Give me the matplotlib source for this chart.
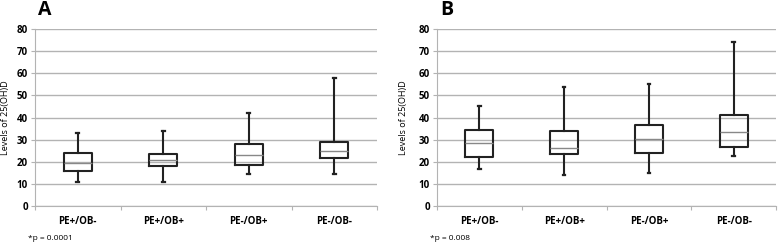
import matplotlib.pyplot as plt

plt.rcParams['font.family'] = ['Open Sans', 'DejaVu Sans']

groups = ['PE+/OB-', 'PE+/OB+', 'PE-/OB+', 'PE-/OB-']

# panel A: whisker low, Q1, median, Q3, whisker high
a_low = [11, 11, 14.5, 14.5]
a_q1 = [16, 18, 18.5, 21.5]
a_med = [19.6, 21, 23, 25]
a_q3 = [24, 23.5, 28, 29]
a_high = [33, 34, 42, 58]

# panel B
b_low = [16.5, 14, 15, 22.5]
b_q1 = [22, 23.5, 24, 26.5]
b_med = [28.5, 26, 30.5, 33.5]
b_q3 = [34.5, 34, 36.5, 41]
b_high = [45, 54, 55, 74]

panels = [
    ('A', a_low, a_q1, a_med, a_q3, a_high, '*p = 0.0001'),
    ('B', b_low, b_q1, b_med, b_q3, b_high, '*p = 0.008'),
]

fig = plt.figure(figsize=(7.78, 2.46), dpi=100)
W, H = 778, 246
boxes = [(35, 377, 6), (437, 776, 403)]
top, bottom = 29, 206

for (letter, lo, q1, med, q3, hi, ptxt), (x0, x1, ylx) in zip(panels, boxes):
    ax = fig.add_axes([x0 / W, 1 - bottom / H, (x1 - x0) / W, (bottom - top) / H])
    stats = []
    for i in range(len(groups)):
        stats.append(dict(whislo=lo[i], q1=q1[i], med=med[i], q3=q3[i],
                          whishi=hi[i], fliers=[], label=groups[i]))
    ax.bxp(stats, positions=range(len(groups)), widths=0.33, showfliers=False,
           boxprops=dict(color='#222222', linewidth=1.5),
           whiskerprops=dict(color='#222222', linewidth=1.5),
           capprops=dict(color='#222222', linewidth=1.6),
           medianprops=dict(color='#888888', linewidth=1.0),
           capwidths=0.03, zorder=3)
    ax.set_xlim(-0.5, len(groups) - 0.5)
    ax.set_ylim(0, 80)
    ax.set_yticks(range(0, 81, 10))
    ax.yaxis.grid(True, color='#b3b3b3', linewidth=1.0)
    ax.set_axisbelow(True)
    for s in ['top', 'right']:
        ax.spines[s].set_visible(False)
    ax.spines['left'].set_color('#b3b3b3')
    ax.spines['bottom'].set_color('#b3b3b3')
    ax.set_xticks([i - 0.5 for i in range(len(groups) + 1)], minor=False)
    ax.set_xticklabels([])
    ax.tick_params(axis='x', which='major', length=3, color='#b3b3b3')
    ax.set_xticks(range(len(groups)), minor=True)
    ax.set_xticklabels(groups, minor=True, fontsize=7, fontweight='bold')
    ax.tick_params(axis='x', which='minor', length=0, pad=7)
    ax.tick_params(axis='y', length=3, color='#b3b3b3', labelsize=7, pad=2)
    for t in ax.get_yticklabels():
        t.set_fontweight('bold')
    ax.set_ylabel('Levels of 25(OH)D', fontsize=6.5, va='center')
    ax.yaxis.set_label_coords((ylx - x0) / (x1 - x0), 0.5)
    fig.text((x0 + 3) / W, 1 - 10 / H, letter, fontsize=14, fontweight='bold',
             va='center', ha='left')
    fig.text((x0 - 7) / W, 1 - 238 / H, ptxt, fontsize=6, va='center', ha='left')

plt.savefig('out.png', dpi=100)
